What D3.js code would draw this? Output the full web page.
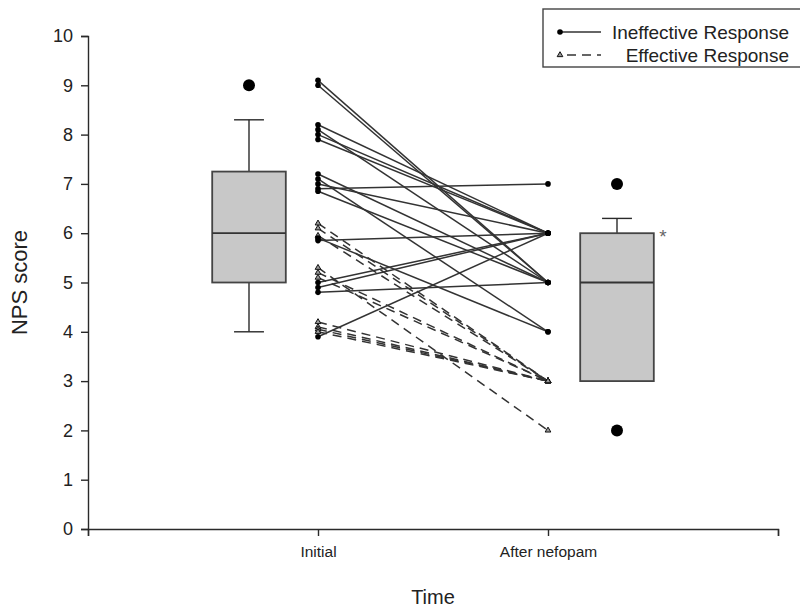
<!DOCTYPE html>
<html>
<head>
<meta charset="utf-8">
<script src="https://cdn.jsdelivr.net/npm/d3@7"></script>
<style>
body { margin: 0; background: #fff; }
text { font-family: "Liberation Sans", Arial, sans-serif; }
</style>
</head>
<body>
<div class="graph"></div>
<script>
// chart values
var timeLabels = ["Initial", "After nefopam"];
var yTicks = [0, 1, 2, 3, 4, 5, 6, 7, 8, 9, 10];

// ineffective response (solid, circles): initial -> after nefopam
var ineffInitial = [9.1, 9.0, 8.2, 8.1, 8.0, 7.9, 7.2, 7.1, 7.0, 6.9, 6.85, 5.9, 5.85, 5.0, 4.9, 4.8, 3.9];
var ineffAfter   = [5,   5,   6,   5,   6,   6,   5,   4,   6,   7,   5,    4,   6,    6,   6,   5,   6];

// effective response (dashed, triangles)
var effInitial = [6.2, 6.1, 5.95, 5.3, 5.2, 5.1, 4.2, 4.1, 4.05, 4.0];
var effAfter   = [3,   3,   3,    2,   3,   3,   3,   3,   3,    3];

// box plots
var boxPos      = [0.7, 2.3];
var boxLow      = [4.0, 3.0];
var boxQ1       = [5.0, 3.0];
var boxMedian   = [6.0, 5.0];
var boxQ3       = [7.25, 6.0];
var boxHigh     = [8.3, 6.3];
var boxOutliers = [[9], [7, 2]];

var svgWidth = 800;
var svgHeight = 607;

var svg = d3.select("div.graph")
		.append("svg")
		.attr("width", svgWidth)
		.attr("height", svgHeight);

var x = d3.scaleLinear().domain([0, 3]).range([88, 778]);
var y = d3.scaleLinear().domain([0, 10]).range([529, 36]);

var ink = "#2a2a2a";

// axes
var yAxis = d3.axisLeft(y).tickValues(yTicks).tickSize(7).tickPadding(8).tickFormat(d3.format("d"));
var xAxis = d3.axisBottom(x).tickValues([0, 1, 2, 3]).tickSize(7).tickPadding(10)
		.tickFormat(function(d) { return (d == 1 || d == 2) ? timeLabels[d - 1] : ""; });

var gy = svg.append("g").attr("transform", "translate(88,0)").call(yAxis);
var gx = svg.append("g").attr("transform", "translate(0,529)").call(xAxis);

[gy, gx].forEach(function(g) {
	g.select(".domain").attr("stroke", ink).attr("stroke-width", 1.4);
	g.selectAll(".tick line").attr("stroke", ink).attr("stroke-width", 1.4);
	g.selectAll("text").attr("fill", "#222").style("font-size", "18px")
		.style("font-family", "Liberation Sans, Arial, sans-serif");
});
gx.selectAll("text").style("font-size", "15.5px");

// axis titles
svg.append("text")
	.attr("transform", "translate(27," + y(5) + ") rotate(-90)")
	.attr("text-anchor", "middle")
	.style("font-size", "22px")
	.attr("fill", "#222")
	.text("NPS score");

svg.append("text")
	.attr("x", 433).attr("y", 604)
	.attr("text-anchor", "middle")
	.style("font-size", "20px")
	.attr("fill", "#222")
	.text("Time");

// box plots
var halfBox = 0.16;
var halfCap = 0.065;
var gBox = svg.append("g");

boxPos.forEach(function(p, i) {
	gBox.append("line")
		.attr("x1", x(p)).attr("x2", x(p))
		.attr("y1", y(boxLow[i])).attr("y2", y(boxHigh[i]))
		.attr("stroke", ink).attr("stroke-width", 1.4);
	[boxLow[i], boxHigh[i]].forEach(function(v) {
		gBox.append("line")
			.attr("x1", x(p - halfCap)).attr("x2", x(p + halfCap))
			.attr("y1", y(v)).attr("y2", y(v))
			.attr("stroke", ink).attr("stroke-width", 1.4);
	});
	gBox.append("rect")
		.attr("x", x(p - halfBox)).attr("width", x(p + halfBox) - x(p - halfBox))
		.attr("y", y(boxQ3[i])).attr("height", y(boxQ1[i]) - y(boxQ3[i]))
		.attr("fill", "#c8c8c8").attr("stroke", "#444").attr("stroke-width", 1.8);
	gBox.append("line")
		.attr("x1", x(p - halfBox)).attr("x2", x(p + halfBox))
		.attr("y1", y(boxMedian[i])).attr("y2", y(boxMedian[i]))
		.attr("stroke", "#333").attr("stroke-width", 1.8);
	boxOutliers[i].forEach(function(v) {
		gBox.append("circle")
			.attr("cx", x(p)).attr("cy", y(v)).attr("r", 6)
			.attr("fill", "#000");
	});
});

svg.append("text")
	.attr("x", x(2.3) + 46).attr("y", y(6) + 10)
	.attr("text-anchor", "middle")
	.style("font-size", "19px")
	.attr("fill", "#666")
	.text("*");

// paired lines
var gLines = svg.append("g");
var tri = d3.symbol().type(d3.symbolTriangle).size(14);

effInitial.forEach(function(v, i) {
	gLines.append("line")
		.attr("x1", x(1)).attr("y1", y(v))
		.attr("x2", x(2)).attr("y2", y(effAfter[i]))
		.attr("stroke", "#333").attr("stroke-width", 1.5)
		.attr("stroke-dasharray", "9,6");
});
ineffInitial.forEach(function(v, i) {
	gLines.append("line")
		.attr("x1", x(1)).attr("y1", y(v))
		.attr("x2", x(2)).attr("y2", y(ineffAfter[i]))
		.attr("stroke", "#333").attr("stroke-width", 1.5);
});

effInitial.forEach(function(v, i) {
	gLines.append("path").attr("d", tri)
		.attr("transform", "translate(" + x(1) + "," + y(v) + ")")
		.attr("fill", "#999").attr("stroke", "#111").attr("stroke-width", 1);
	gLines.append("path").attr("d", tri)
		.attr("transform", "translate(" + x(2) + "," + y(effAfter[i]) + ")")
		.attr("fill", "#999").attr("stroke", "#111").attr("stroke-width", 1);
});
ineffInitial.forEach(function(v, i) {
	gLines.append("circle").attr("cx", x(1)).attr("cy", y(v)).attr("r", 2.8).attr("fill", "#000");
	gLines.append("circle").attr("cx", x(2)).attr("cy", y(ineffAfter[i])).attr("r", 2.8).attr("fill", "#000");
});

// legend
var gLeg = svg.append("g");
gLeg.append("rect")
	.attr("x", 543).attr("y", 9).attr("width", 270).attr("height", 58)
	.attr("fill", "#fff").attr("stroke", "#444").attr("stroke-width", 1.4);

gLeg.append("line").attr("x1", 560).attr("x2", 601).attr("y1", 32).attr("y2", 32)
	.attr("stroke", "#333").attr("stroke-width", 1.5);
gLeg.append("circle").attr("cx", 560).attr("cy", 32).attr("r", 2.8).attr("fill", "#000");
gLeg.append("line").attr("x1", 563).attr("x2", 601).attr("y1", 55).attr("y2", 55)
	.attr("stroke", "#333").attr("stroke-width", 1.5).attr("stroke-dasharray", "9,6").attr("stroke-dashoffset", -4);
gLeg.append("path").attr("d", tri).attr("transform", "translate(560,55)")
	.attr("fill", "#999").attr("stroke", "#111").attr("stroke-width", 1);

gLeg.append("text").attr("x", 789).attr("y", 39).attr("text-anchor", "end")
	.style("font-size", "19px").attr("fill", "#222").text("Ineffective Response");
gLeg.append("text").attr("x", 789).attr("y", 62).attr("text-anchor", "end")
	.style("font-size", "19px").attr("fill", "#222").text("Effective Response");
</script>
</body>
</html>
